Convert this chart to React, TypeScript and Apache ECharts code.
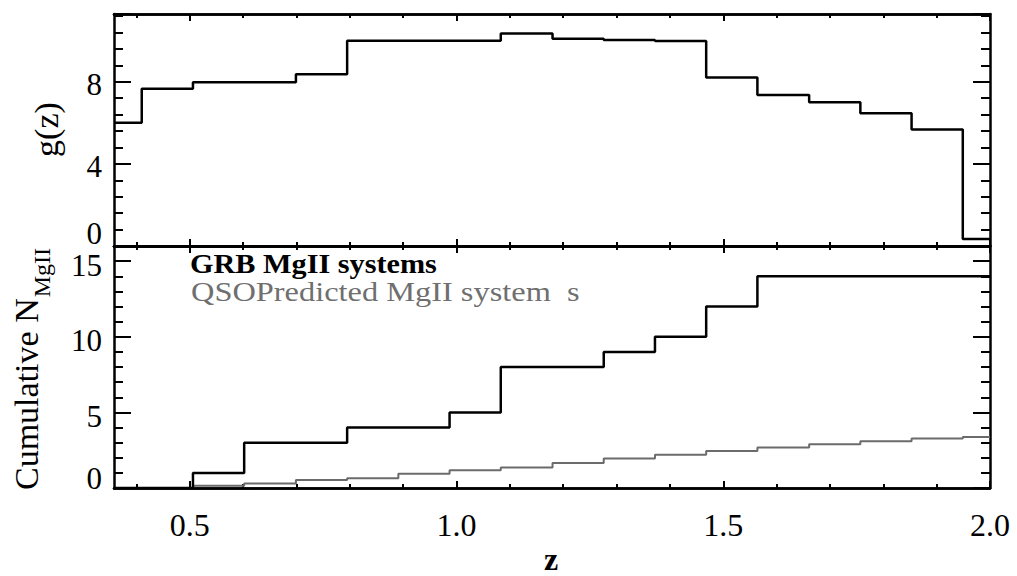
import React, { useEffect, useRef } from "react";
import * as echarts from "echarts";

// Redshift bin edges shared by all three histograms
const binEdges = [0.358, 0.41, 0.506, 0.602, 0.699, 0.795, 0.891, 0.987, 1.083, 1.18, 1.276, 1.372, 1.468, 1.564, 1.661, 1.757, 1.853, 1.949, 2.0];

// g(z): redshift path density of the sample, one value per bin
const gz = [6.0, 7.66, 7.97, 7.97, 8.37, 10.0, 10.0, 10.0, 10.35, 10.1, 10.03, 9.98, 8.21, 7.35, 7.0, 6.46, 5.68, 0.34];

// Cumulative number of MgII absorbers
const grbCumulative = [0, 0, 1, 3, 3, 4, 4, 5, 8, 8, 9, 10, 12, 14, 14, 14, 14, 14];
const qsoPredicted = [0, 0.02, 0.15, 0.3, 0.53, 0.65, 0.94, 1.18, 1.36, 1.66, 1.95, 2.2, 2.45, 2.68, 2.9, 3.09, 3.27, 3.38];

// Axis ticks and labels
const zMajorTicks = [0.5, 1.0, 1.5, 2.0];
const zMinorTicks = [0.4, 0.6, 0.7, 0.8, 0.9, 1.1, 1.2, 1.3, 1.4, 1.6, 1.7, 1.8, 1.9];
const zTickLabels = [0.5, 1.0, 1.5, 2.0];
const gTickLabels = [0, 4, 8];
const nTickLabels = [0, 5, 10, 15];

const Z_MIN = 0.358;
const Z_MAX = 2.0;
const SERIF = "'Liberation Serif', 'Times New Roman', Times, serif";
const AXIS_W = 2.5;

const stepPoints = (vals: number[]) => [
  ...vals.map((v, i) => [binEdges[i], v]),
  [binEdges[binEdges.length - 1], vals[vals.length - 1]],
];

function zAxis(gridIndex: number, position: string, ticks: number[], length: number, labels?: number[]) {
  return {
    type: "value",
    gridIndex,
    position,
    min: Z_MIN,
    max: Z_MAX,
    axisLine: { show: true, onZero: false, lineStyle: { color: "#000", width: AXIS_W } },
    axisTick: { show: true, inside: true, length, customValues: ticks, lineStyle: { color: "#000", width: 2 } },
    axisLabel: labels
      ? {
          show: true,
          customValues: labels,
          margin: 21,
          color: "#000",
          fontFamily: SERIF,
          fontSize: 32,
          formatter: (v: number) => v.toFixed(1),
        }
      : { show: false },
    splitLine: { show: false },
  };
}

// shiftDown / liftZero: vertical nudges (px) of the ordinary labels and of the "0" label
function valueAxis(
  gridIndex: number,
  position: string,
  max: number,
  interval: number,
  labels?: number[],
  shiftDown = 3,
  liftZero = 10
) {
  return {
    type: "value",
    gridIndex,
    position,
    min: 0,
    max,
    interval,
    axisLine: { show: true, onZero: false, lineStyle: { color: "#000", width: AXIS_W } },
    axisTick: { show: true, inside: true, length: 17, lineStyle: { color: "#000", width: 2 } },
    minorTick: { show: true, splitNumber: 5, length: 9, lineStyle: { color: "#000", width: 2 } },
    axisLabel: labels
      ? {
          show: true,
          margin: 12,
          color: "#000",
          fontFamily: SERIF,
          fontSize: 31,
          formatter: (v: number) => (labels.includes(v) ? (v === 0 ? `{low|${v}}` : `{std|${v}}`) : ""),
          rich: {
            std: { fontFamily: SERIF, fontSize: 31, color: "#000", padding: [shiftDown * 2, 0, 0, 0] },
            low: { fontFamily: SERIF, fontSize: 31, color: "#000", padding: [0, 0, liftZero * 2, 0] },
          },
        }
      : { show: false },
    splitLine: { show: false },
  };
}

function measure(text: string, font: string) {
  const ctx = document.createElement("canvas").getContext("2d");
  if (!ctx) return text.length * 16;
  ctx.font = font;
  return ctx.measureText(text).width;
}

const textStyle = (text: string, font: string, fill: string, align: string) => ({
  text,
  font,
  fill,
  align,
  verticalAlign: "middle",
  textAlign: align,
  textVerticalAlign: "middle",
});

export default function App() {
  const ref = useRef<HTMLDivElement>(null);

  useEffect(() => {
    if (!ref.current) return;
    const chart = echarts.init(ref.current, null, { renderer: "svg" });

    const titleFont = `34px ${SERIF}`;
    const mainWidth = measure("Cumulative N", titleFont);

    chart.setOption({
      animation: false,
      backgroundColor: "#ffffff",
      grid: [
        { left: 114, top: 14, width: 876, height: 232 },
        { left: 114, top: 246, width: 876, height: 242 },
      ],
      xAxis: [
        zAxis(0, "bottom", zMajorTicks, 7),
        zAxis(0, "bottom", zMinorTicks, 4),
        zAxis(0, "top", zMajorTicks, 7),
        zAxis(0, "top", zMinorTicks, 4),
        zAxis(1, "bottom", zMajorTicks, 7, zTickLabels),
        zAxis(1, "bottom", zMinorTicks, 4),
        zAxis(1, "top", zMajorTicks, 7),
        zAxis(1, "top", zMinorTicks, 4),
      ],
      yAxis: [
        valueAxis(0, "left", 11.3, 4, gTickLabels, 3, 13),
        valueAxis(0, "right", 11.3, 4),
        valueAxis(1, "left", 16, 5, nTickLabels, 4, 10),
        valueAxis(1, "right", 16, 5),
      ],
      series: [
        {
          name: "g(z)",
          type: "line",
          step: "end",
          xAxisIndex: 0,
          yAxisIndex: 0,
          data: stepPoints(gz),
          symbol: "none",
          lineStyle: { color: "#000", width: 2.5 },
        },
        {
          name: "QSOPredicted MgII systems",
          type: "line",
          step: "end",
          xAxisIndex: 4,
          yAxisIndex: 2,
          data: stepPoints(qsoPredicted),
          symbol: "none",
          lineStyle: { color: "#6b6b6b", width: 2 },
        },
        {
          name: "GRB MgII systems",
          type: "line",
          step: "end",
          xAxisIndex: 4,
          yAxisIndex: 2,
          data: stepPoints(grbCumulative),
          symbol: "none",
          lineStyle: { color: "#000", width: 2.5 },
        },
      ],
      graphic: [
        {
          type: "text",
          x: 46.5,
          y: 129.5,
          rotation: Math.PI / 2,
          style: textStyle("g(z)", titleFont, "#000", "center"),
        },
        {
          type: "group",
          x: 26.5,
          y: 490,
          rotation: Math.PI / 2,
          children: [
            {
              type: "text",
              x: 0,
              y: 0,
              style: textStyle("Cumulative N", titleFont, "#000", "left"),
            },
            {
              type: "text",
              x: mainWidth + 1,
              y: 15.5,
              style: textStyle("MgII", `24px ${SERIF}`, "#000", "left"),
            },
          ],
        },
        {
          type: "text",
          x: 551,
          y: 559,
          style: textStyle("z", `bold 32px ${SERIF}`, "#000", "center"),
        },
        {
          type: "text",
          x: 190,
          y: 264,
          scaleX: 1.12,
          style: textStyle("GRB MgII systems", `bold 27px ${SERIF}`, "#000", "left"),
        },
        {
          type: "text",
          x: 191,
          y: 291,
          scaleX: 1.2,
          style: textStyle("QSOPredicted MgII system  s", `27px ${SERIF}`, "#6f6f6f", "left"),
        },
      ],
    });

    return () => chart.dispose();
  }, []);

  return (
    <div
      ref={ref}
      style={{ position: "absolute", left: 0, top: 0, width: 1017, height: 576, background: "#fff" }}
    />
  );
}
